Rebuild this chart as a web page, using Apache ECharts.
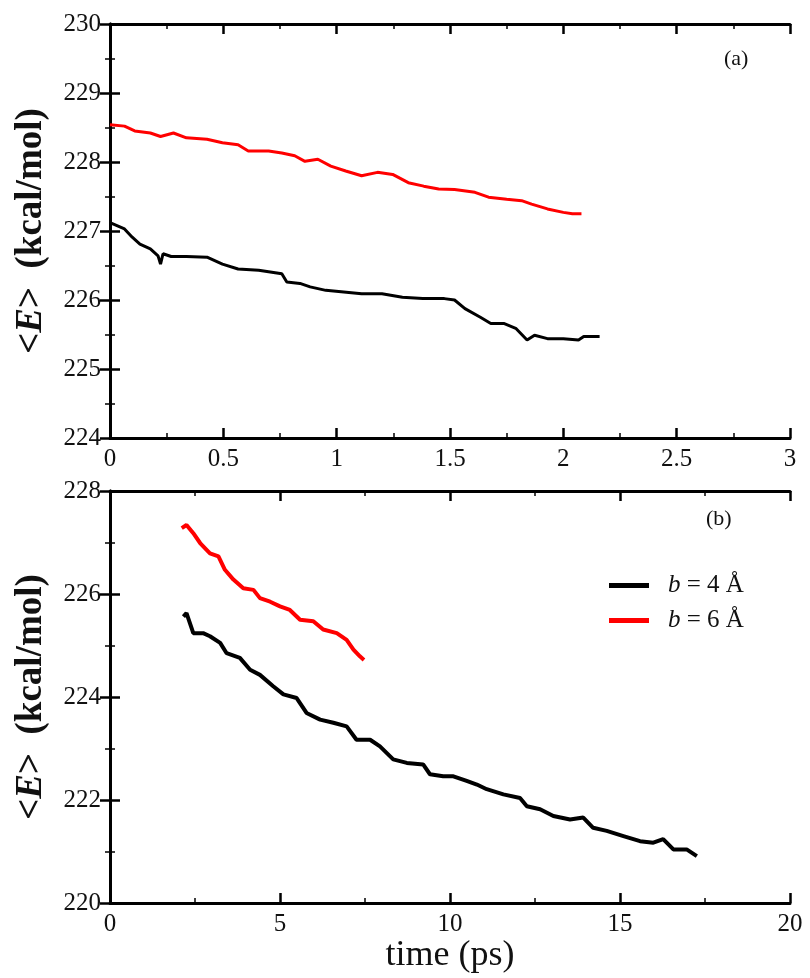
<!DOCTYPE html>
<html>
<head>
<meta charset="utf-8">
<script src="https://cdn.jsdelivr.net/npm/echarts@6/dist/echarts.min.js"></script>
<style>
  html, body { margin: 0; padding: 0; background: #fff; }
  #chart { width: 810px; height: 978px; }
</style>
</head>
<body>
<div id="chart"></div>
<script>
// panel (a): b = 4 Å (black) and b = 6 Å (red), time in ps
const topBlackT = [0, 0.064, 0.098, 0.132, 0.178, 0.212, 0.223, 0.234, 0.27, 0.337, 0.428, 0.496, 0.565, 0.656, 0.758, 0.78, 0.838, 0.883, 0.952, 1.02, 1.11, 1.2, 1.29, 1.38, 1.475, 1.52, 1.566, 1.634, 1.68, 1.737, 1.79, 1.84, 1.873, 1.93, 2.0, 2.067, 2.09, 2.16]
const topBlackE = [227.12, 227.03, 226.91, 226.81, 226.74, 226.64, 226.52, 226.67, 226.63, 226.63, 226.62, 226.52, 226.45, 226.43, 226.38, 226.26, 226.24, 226.19, 226.14, 226.12, 226.09, 226.09, 226.04, 226.02, 226.02, 226.0, 225.875, 225.75, 225.66, 225.66, 225.59, 225.42, 225.49, 225.44, 225.44, 225.42, 225.47, 225.47]
const topRedT = [0, 0.064, 0.109, 0.178, 0.223, 0.28, 0.337, 0.428, 0.496, 0.565, 0.61, 0.7, 0.758, 0.815, 0.86, 0.917, 0.974, 1.04, 1.11, 1.18, 1.247, 1.316, 1.384, 1.45, 1.52, 1.61, 1.67, 1.75, 1.816, 1.86, 1.93, 2.0, 2.04, 2.08]
const topRedE = [228.54, 228.52, 228.45, 228.42, 228.37, 228.42, 228.35, 228.33, 228.28, 228.25, 228.16, 228.16, 228.13, 228.09, 228.01, 228.04, 227.94, 227.87, 227.80, 227.85, 227.82, 227.70, 227.65, 227.61, 227.6, 227.56, 227.49, 227.46, 227.44, 227.39, 227.32, 227.27, 227.25, 227.25]

// panel (b)
const botBlackT = [2.16, 2.25, 2.45, 2.74, 2.94, 3.24, 3.43, 3.82, 4.12, 4.41, 4.8, 5.1, 5.49, 5.78, 6.18, 6.57, 6.96, 7.25, 7.65, 7.94, 8.33, 8.73, 9.21, 9.41, 9.8, 10.1, 10.49, 10.79, 11.08, 11.57, 12.06, 12.26, 12.65, 13.04, 13.53, 13.92, 14.21, 14.61, 15.1, 15.59, 15.98, 16.27, 16.57, 16.96, 17.26]
const botBlackE = [225.56, 225.63, 225.24, 225.24, 225.18, 225.05, 224.85, 224.76, 224.53, 224.43, 224.21, 224.05, 223.98, 223.69, 223.56, 223.50, 223.43, 223.17, 223.17, 223.04, 222.79, 222.72, 222.69, 222.50, 222.46, 222.46, 222.37, 222.30, 222.21, 222.11, 222.04, 221.88, 221.82, 221.69, 221.62, 221.66, 221.46, 221.40, 221.30, 221.20, 221.17, 221.24, 221.04, 221.04, 220.91]
const botRedT = [2.11, 2.25, 2.45, 2.65, 2.94, 3.19, 3.38, 3.63, 3.92, 4.22, 4.41, 4.71, 5.0, 5.29, 5.59, 5.98, 6.27, 6.67, 6.96, 7.16, 7.35, 7.47]
const botRedE = [227.28, 227.34, 227.18, 226.99, 226.79, 226.73, 226.47, 226.28, 226.11, 226.08, 225.92, 225.85, 225.76, 225.69, 225.50, 225.47, 225.31, 225.24, 225.11, 224.92, 224.79, 224.72]

const seriesNames = ['b = 4 Å', 'b = 6 Å']
const panelTags = ['(a)', '(b)']

const zip = (xs, ys) => xs.map((x, i) => [x, ys[i]])

const serif = 'Liberation Serif'
const frame = { show: true, lineStyle: { color: '#000', width: 3 } }
const ticks = { show: true, inside: true, length: 10, lineStyle: { color: '#000', width: 2.5 } }
const minor = { show: true, splitNumber: 2, length: 5, lineStyle: { color: '#000', width: 1.5 } }
const labels = { fontFamily: serif, fontSize: 25, color: '#111', margin: 9 }

const yName = '<{i|E}>  (kcal/mol)'
const yNameStyle = {
  fontFamily: serif, fontSize: 37, fontWeight: 'bold', color: '#111',
  rich: { i: { fontFamily: serif, fontSize: 37, fontWeight: 'bold', fontStyle: 'italic', color: '#111' } }
}

const xAxis = (grid, min, max, interval, pos, extra) => Object.assign({
  type: 'value', gridIndex: grid, min, max, interval, position: pos,
  axisLine: frame, axisTick: ticks, minorTick: minor,
  splitLine: { show: false },
  axisLabel: pos === 'bottom' ? labels : { show: false }
}, extra || {})

const yAxis = (grid, min, max, interval, pos, extra) => Object.assign({
  type: 'value', gridIndex: grid, min, max, interval, position: pos,
  axisLine: frame, axisTick: ticks, minorTick: minor,
  splitLine: { show: false },
  axisLabel: pos === 'left' ? labels : { show: false }
}, extra || {})

const chart = echarts.init(document.getElementById('chart'))
const option = {
  animation: false,
  backgroundColor: '#fff',
  grid: [
    { left: 110, width: 680, top: 24, height: 414 },
    { left: 110, width: 680, top: 491, height: 412 }
  ],
  xAxis: [
    xAxis(0, 0, 3, 0.5, 'bottom'),
    xAxis(0, 0, 3, 0.5, 'top'),
    xAxis(1, 0, 20, 5, 'bottom', {
      name: 'time (ps)', nameLocation: 'middle', nameGap: 34,
      nameTextStyle: { fontFamily: serif, fontSize: 36, color: '#111' }
    }),
    xAxis(1, 0, 20, 5, 'top')
  ],
  yAxis: [
    yAxis(0, 224, 230, 1, 'left', { name: yName, nameLocation: 'middle', nameGap: 60, nameTextStyle: yNameStyle }),
    yAxis(0, 224, 230, 1, 'right'),
    yAxis(1, 220, 228, 2, 'left', { name: yName, nameLocation: 'middle', nameGap: 60, nameTextStyle: yNameStyle }),
    yAxis(1, 220, 228, 2, 'right')
  ],
  legend: {
    orient: 'vertical', left: 604, top: 568, itemGap: 10,
    icon: 'rect', itemWidth: 40, itemHeight: 5,
    data: seriesNames,
    formatter: name => '{s|}{i|b}' + name.slice(1),
    textStyle: {
      fontFamily: serif, fontSize: 25, color: '#111', lineHeight: 25,
      rich: {
        s: { width: 14 },
        i: { fontFamily: serif, fontSize: 25, fontStyle: 'italic', color: '#111' }
      }
    }
  },
  graphic: [
    { type: 'text', left: 724, top: 48, style: { text: panelTags[0], font: '22px "Liberation Serif"', fill: '#111' } },
    { type: 'text', left: 706, top: 508, style: { text: panelTags[1], font: '22px "Liberation Serif"', fill: '#111' } }
  ],
  series: [
    { name: seriesNames[0], type: 'line', xAxisIndex: 0, yAxisIndex: 0, data: zip(topBlackT, topBlackE), showSymbol: false, color: '#000', lineStyle: { width: 3 } },
    { name: seriesNames[1], type: 'line', xAxisIndex: 0, yAxisIndex: 0, data: zip(topRedT, topRedE), showSymbol: false, color: '#ff0000', lineStyle: { width: 3 } },
    { name: seriesNames[0], type: 'line', xAxisIndex: 2, yAxisIndex: 2, data: zip(botBlackT, botBlackE), showSymbol: false, color: '#000', lineStyle: { width: 4 } },
    { name: seriesNames[1], type: 'line', xAxisIndex: 2, yAxisIndex: 2, data: zip(botRedT, botRedE), showSymbol: false, color: '#ff0000', lineStyle: { width: 4 } }
  ]
}
chart.setOption(option)
</script>
</body>
</html>
